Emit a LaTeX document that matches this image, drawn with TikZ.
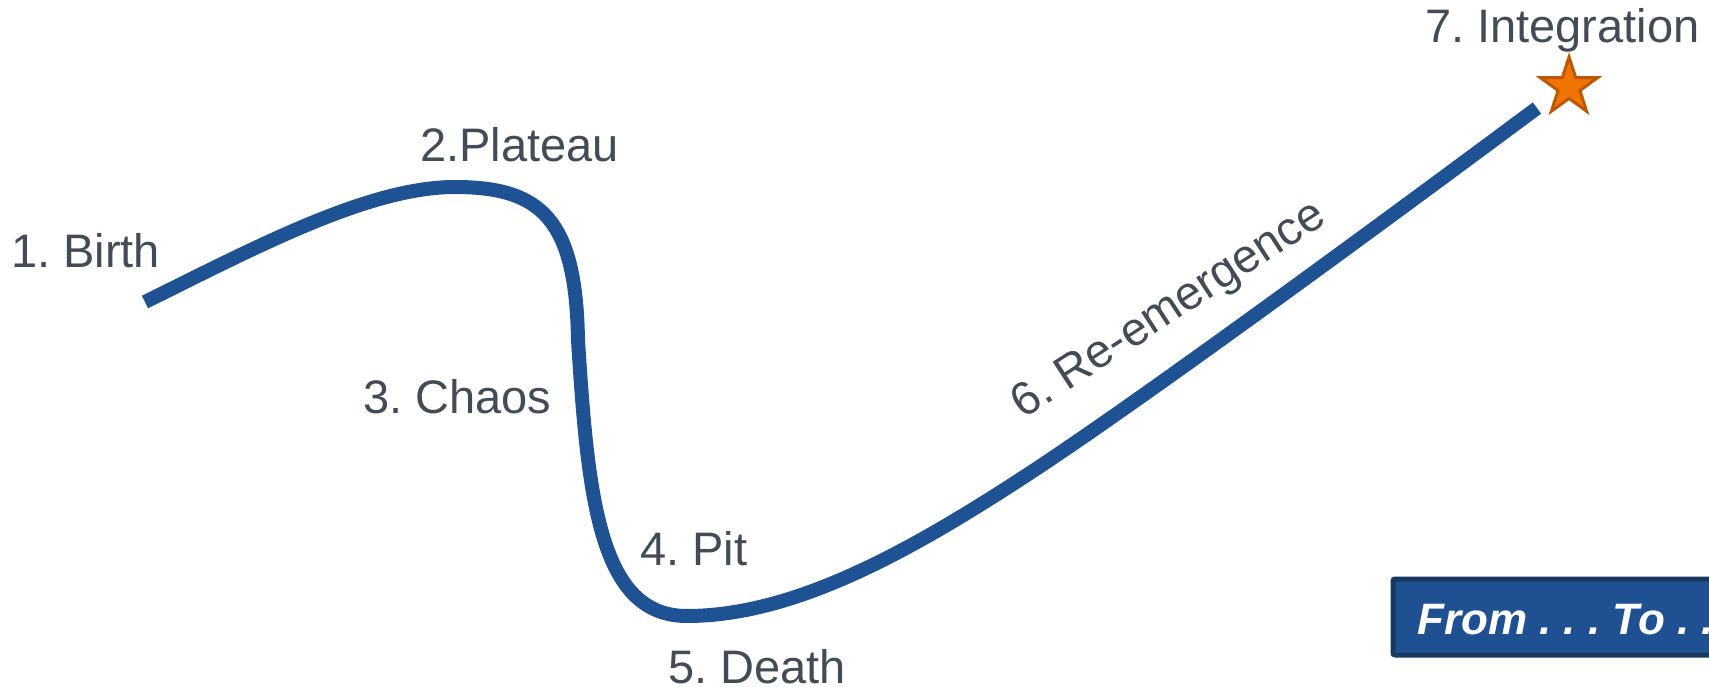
\documentclass[tikz,border=0pt]{standalone}
\usepackage{fontspec}
\setmainfont{Liberation Sans}
\usetikzlibrary{shapes.geometric}
\definecolor{curveblue}{RGB}{31,82,147}
\definecolor{labelgray}{RGB}{67,76,86}
\definecolor{starfill}{RGB}{240,116,0}
\definecolor{starline}{RGB}{188,88,4}
\definecolor{boxblue}{RGB}{31,80,145}
\definecolor{boxline}{RGB}{24,57,98}
\frenchspacing
\begin{document}
\begin{tikzpicture}[x=1pt,y=-1pt,
  stage/.style={text=labelgray, font=\fontsize{47}{56}\selectfont, inner sep=0pt, anchor=base west},
  journey/.style={draw=curveblue, line width=14pt},
  goalstar/.style={star, star points=5, star point ratio=2.618, minimum size=60pt,
    inner sep=0pt, fill=starfill, draw=starline, line width=3pt},
  tagbox/.style={fill=boxblue, draw=boxline, line width=5pt, rounded corners=2pt},
  ]
\useasboundingbox (0,0) rectangle (1709,687);

% points along the journey curve
\coordinate (p1) at (145,302);
\coordinate (p2) at (455,187);
\coordinate (p3) at (578,340);
\coordinate (p4) at (687,616);
\coordinate (p5) at (1036,469);
\coordinate (p6) at (1537,108);

\draw[journey] (p1) .. controls (260,245) and (370,187) .. (p2)
  .. controls (542,187) and (576,220) .. (p3)
  .. controls (588,500) and (600,616) .. (p4)
  .. controls (797,616) and (916,548) .. (p5)
  .. controls (1160,387) and (1420,195) .. (p6);

% stage labels
\node[stage] (birth) at (11,268) {1. Birth};
\node[stage] (plateau) at (420,162) {2.Plateau};
\node[stage] (chaos) at (363,413) {3. Chaos};
\node[stage] (pit) at (640,565) {4. Pit};
\node[stage] (death) at (668,683) {5. Death};
\node[stage, anchor=base, rotate=33] (reemerge) at (1176,321) {6. Re-emergence};
\node[stage] (integration) at (1425,43) {7. Integration};

% goal marker
\node[goalstar] (goal) at (1569,87) {};

% caption box running off the right edge
\begin{scope}
\clip (0,0) rectangle (1709,687);
\draw[tagbox] (1393,579) rectangle (1780,655);
\node[anchor=base west, inner sep=0pt, text=white,
  font=\fontsize{44}{52}\selectfont\bfseries\itshape] (fromto) at (1417,634) {From . . . To . . .};
\end{scope}
\end{tikzpicture}
\end{document}
